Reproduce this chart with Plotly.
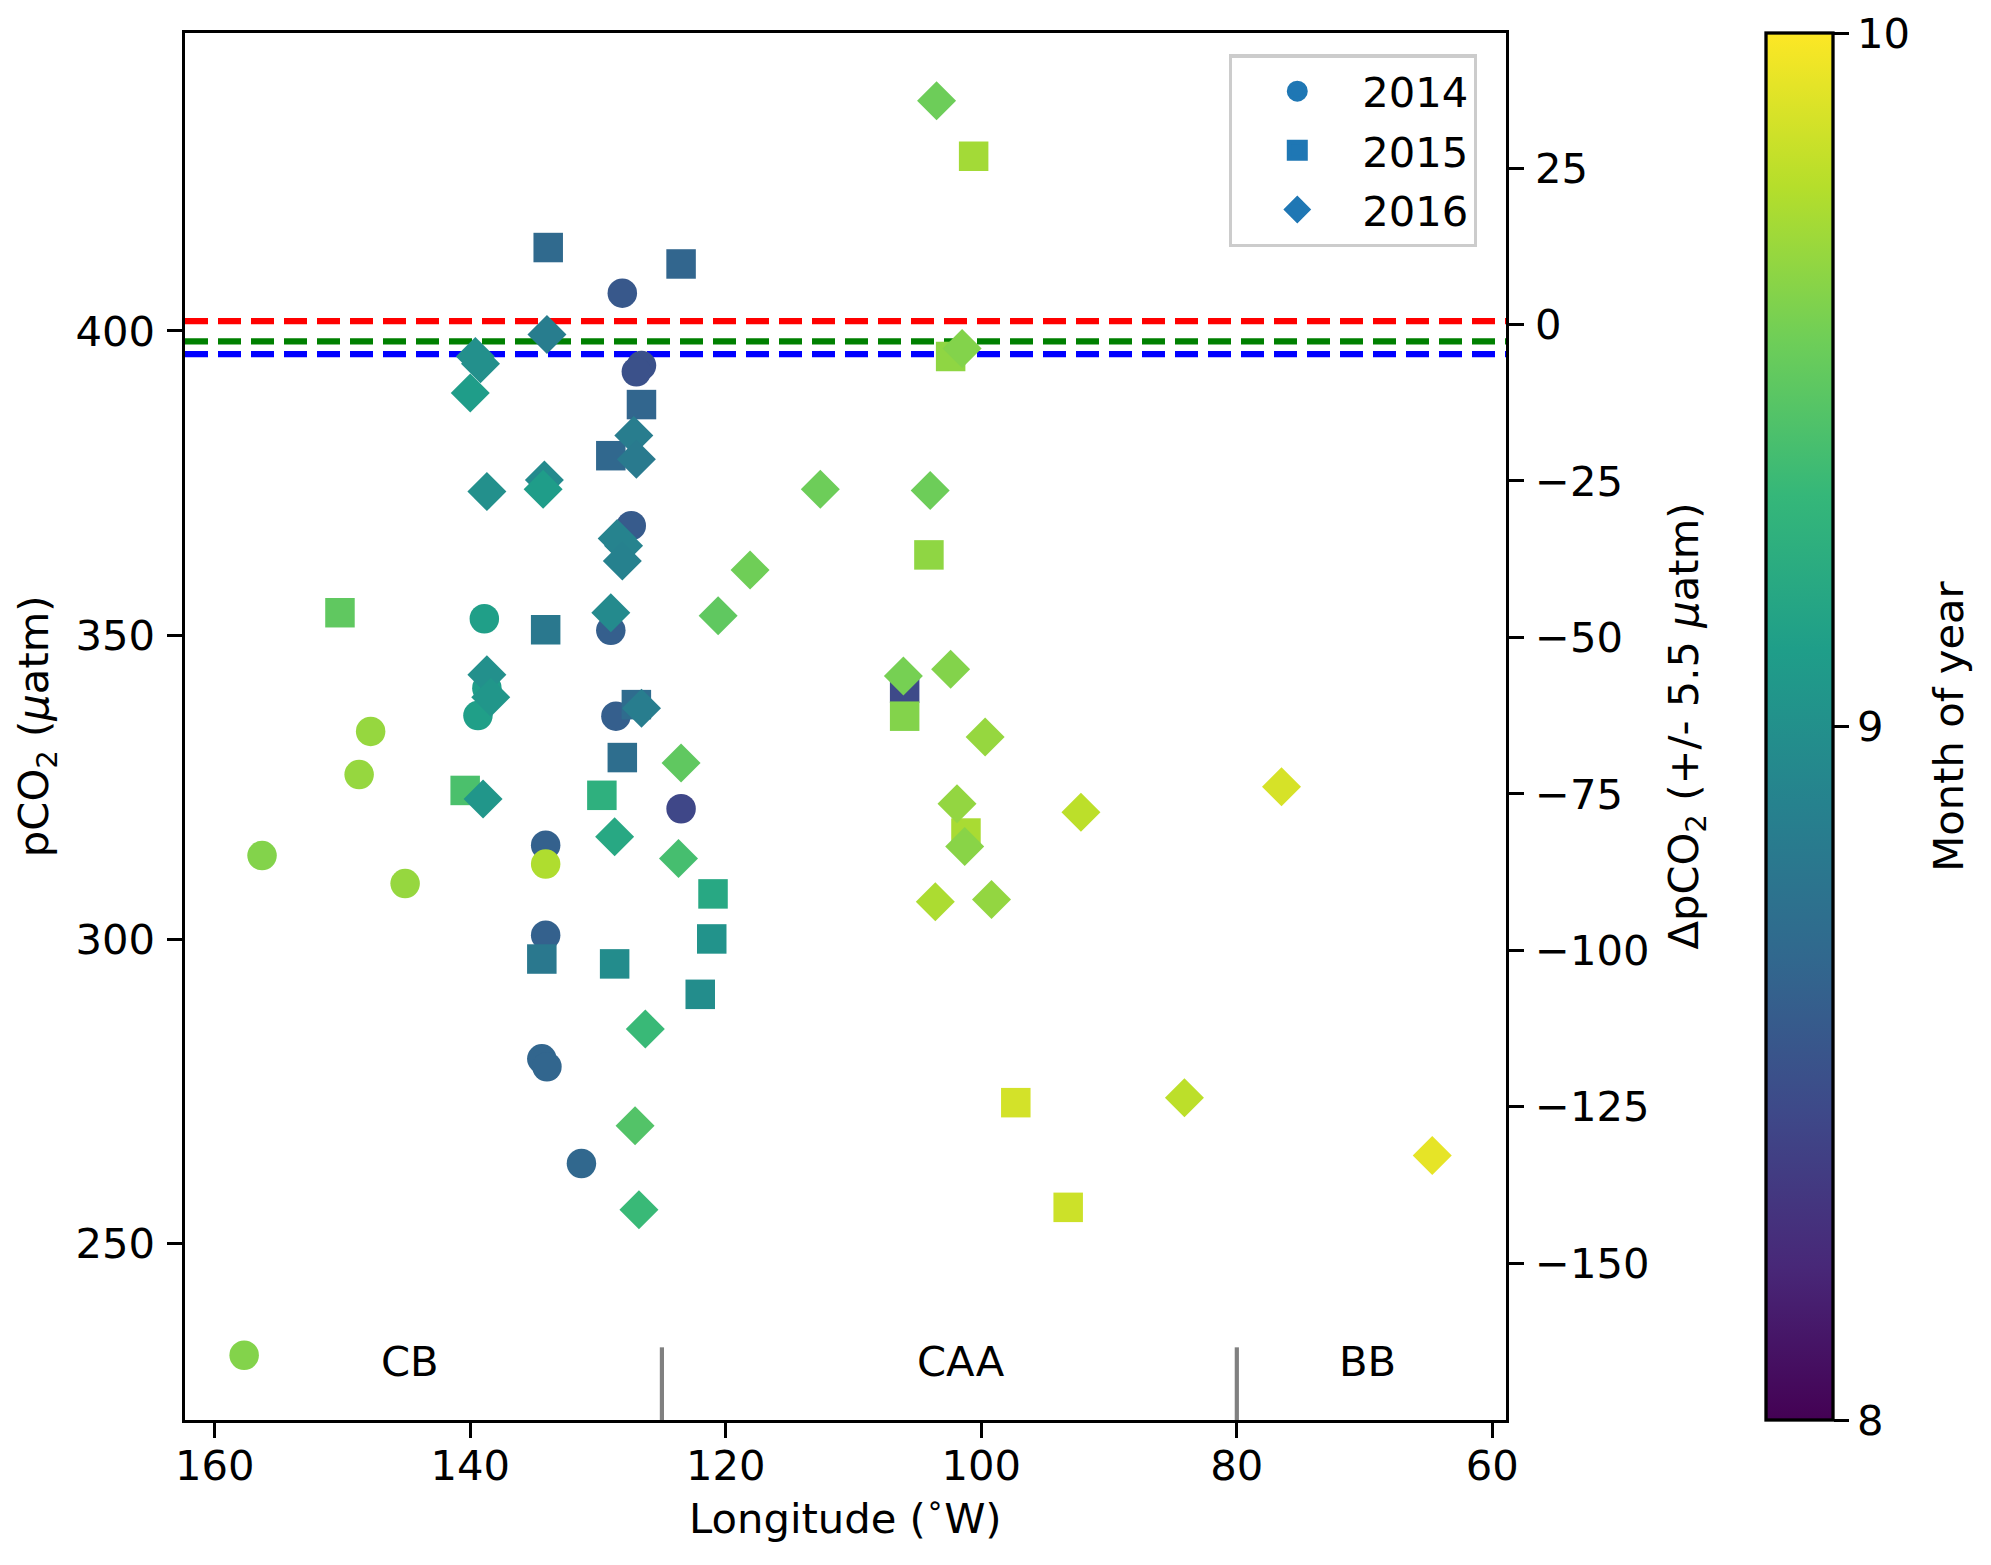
import plotly.graph_objects as go

# 2014 cruise: longitude (deg W), pCO2 (uatm), month of year
lon_2014 = [157.7, 156.3, 148.7, 147.8, 145.1, 138.9, 138.7, 139.4, 134.1, 134.1,
            134.1, 134.4, 134.0, 131.3, 128.1, 126.6, 127.0, 127.4, 129.0, 128.6, 123.5]
pco2_2014 = [231.7, 313.8, 327.1, 334.2, 309.2, 352.7, 341.3, 336.8, 315.5, 312.4,
             300.7, 280.4, 279.1, 263.2, 406.2, 394.3, 393.3, 368.0, 350.8, 336.7, 321.5]
month_2014 = [9.62, 9.62, 9.68, 9.68, 9.68, 9.12, 9.10, 9.12, 8.62, 9.76,
              8.62, 8.65, 8.65, 8.67, 8.55, 8.50, 8.50, 8.57, 8.60, 8.60, 8.43]

# 2015 cruise
lon_2015 = [133.9, 123.5, 150.2, 134.1, 140.4, 129.0, 126.6, 127.0, 128.1, 129.7,
            134.4, 128.7, 121.0, 121.1, 122.0, 100.6, 102.4, 104.1, 106.0, 106.0,
            101.2, 97.3, 93.2]
pco2_2015 = [413.7, 411.0, 353.7, 350.9, 324.5, 379.5, 387.9, 338.6, 329.9, 323.7,
             296.8, 296.0, 307.5, 300.1, 291.0, 428.7, 395.8, 363.2, 341.3, 336.7,
             317.5, 273.2, 256.0]
month_2015 = [8.68, 8.65, 9.50, 8.80, 9.42, 8.67, 8.65, 8.70, 8.72, 9.27,
              8.80, 8.97, 9.20, 9.02, 8.98, 9.72, 9.66, 9.66, 8.45, 9.62,
              9.74, 9.87, 9.85]

# 2016 cruise
lon_2016 = [103.5, 134.0, 139.6, 139.2, 140.0, 127.2, 127.0, 138.7, 134.2, 134.3,
            128.5, 128.0, 128.1, 129.0, 138.7, 138.4, 126.6, 139.0, 128.7, 123.5,
            123.7, 126.3, 127.1, 126.8, 112.6, 104.0, 118.1, 120.6, 106.1, 102.4,
            101.5, 99.7, 101.9, 101.3, 103.6, 99.2, 92.2, 76.5, 84.1, 64.7]
pco2_2016 = [437.8, 399.4, 395.8, 394.6, 389.8, 382.8, 378.9, 373.6, 375.5, 374.0,
             365.9, 364.7, 362.2, 353.7, 343.5, 339.8, 338.0, 323.1, 316.9, 329.0,
             313.3, 285.3, 269.4, 255.6, 374.0, 373.8, 360.7, 353.2, 343.3, 344.4,
             397.1, 333.3, 322.3, 315.3, 306.2, 306.6, 320.9, 325.1, 274.0, 264.5]
month_2016 = [9.55, 8.85, 9.00, 9.00, 9.10, 8.85, 8.82, 9.00, 8.95, 9.10,
              8.90, 8.90, 8.88, 8.95, 9.00, 9.05, 8.85, 9.05, 9.20, 9.50,
              9.40, 9.35, 9.45, 9.35, 9.55, 9.55, 9.56, 9.50, 9.58, 9.62,
              9.62, 9.68, 9.67, 9.64, 9.75, 9.67, 9.80, 9.88, 9.80, 9.93]

# atmospheric reference levels (uatm)
ref_levels = [401.6, 398.3, 396.2]
ref_colors = ['red', 'green', 'blue']

# region boundaries and labels
boundary_lons = [125, 80]
boundary_top = 233.0
region_names = ['CB', 'CAA', 'BB']
region_lons = [144.7, 101.6, 69.8]
region_y = 230.6

x_range = [162.33, 58.93]
y_range = [221.06, 448.95]
dy_range = [-175.04, 46.58]

FONT = 'DejaVu Sans'
FS = 41.7
LW = 3.3

fig = go.Figure()

years = [
    ('2014', lon_2014, pco2_2014, month_2014, 'circle', 29.5),
    ('2015', lon_2015, pco2_2015, month_2015, 'square', 29.5),
    ('2016', lon_2016, pco2_2016, month_2016, 'diamond', 30),
]

for name, lon, pco2, month, symbol, size in years:
    fig.add_trace(go.Scatter(
        x=lon, y=pco2, mode='markers', name=name, showlegend=False,
        marker=dict(symbol=symbol, size=size, color=month,
                    coloraxis='coloraxis', line=dict(width=0)),
    ))

# legend-only entries in plain tab:blue (outline fattens the capped legend symbol)
for name, lon, pco2, month, symbol, size in years:
    fig.add_trace(go.Scatter(
        x=[None], y=[None], mode='markers', name=name, legendgroup=name,
        marker=dict(symbol=symbol, size=size, color='#1f77b4',
                    line=dict(color='#1f77b4', width=5)),
    ))

# dummy trace so the right-hand delta axis is drawn
fig.add_trace(go.Scatter(x=[None], y=[None], yaxis='y2', showlegend=False,
                         hoverinfo='skip'))

for level, col in zip(ref_levels, ref_colors):
    fig.add_shape(type='line', xref='paper', x0=0, x1=1, yref='y',
                  y0=level, y1=level, layer='below',
                  line=dict(color=col, width=6.25, dash='23px,10px'))

for b in boundary_lons:
    fig.add_shape(type='line', xref='x', x0=b, x1=b, yref='y',
                  y0=y_range[0], y1=boundary_top,
                  line=dict(color='gray', width=4.2))

for name, lon in zip(region_names, region_lons):
    fig.add_annotation(x=lon, y=region_y, text=name, showarrow=False,
                       xanchor='center', yanchor='middle',
                       font=dict(family=FONT, size=FS, color='black'))

# axis titles as annotations so they sit where matplotlib put them
titles = [
    ('Longitude (<sup>∘</sup>W)', 0.5, -0.0692, 0),
    ('pCO<sub>2</sub> (<i>μ</i>atm)', -0.1123, 0.5, -90),
    ('ΔpCO<sub>2</sub> (+/- 5.5 <i>μ</i>atm)', 1.1363, 0.5, -90),
    ('Month of year', 1.3347, 0.5, -90),
]
for text, tx, ty, angle in titles:
    fig.add_annotation(x=tx, y=ty, xref='paper', yref='paper', text=text,
                       showarrow=False, textangle=angle,
                       xanchor='center', yanchor='middle',
                       font=dict(family=FONT, size=FS, color='black'))

axis_common = dict(showline=True, linecolor='black', linewidth=LW,
                   ticks='outside', ticklen=14.5, tickwidth=LW, tickcolor='black',
                   showgrid=False, zeroline=False, automargin=False,
                   tickfont=dict(family=FONT, size=FS, color='black'))

fig.update_layout(
    width=1991, height=1565,
    margin=dict(l=185.3, r=485, t=33.3, b=145),
    paper_bgcolor='white', plot_bgcolor='white',
    font=dict(family=FONT, size=FS, color='black'),
    xaxis=dict(range=x_range, tickvals=[160, 140, 120, 100, 80, 60],
               mirror=True, ticklabelstandoff=-8, **axis_common),
    yaxis=dict(range=y_range, tickvals=[250, 300, 350, 400],
               ticklabelstandoff=4, **axis_common),
    yaxis2=dict(range=dy_range, tickvals=[-150, -125, -100, -75, -50, -25, 0, 25],
                overlaying='y', side='right', anchor='x',
                ticklabelstandoff=3, **axis_common),
    coloraxis=dict(
        colorscale='Viridis', cmin=8, cmax=10,
        colorbar=dict(
            x=1.1969, xanchor='left', y=0.5, yanchor='middle',
            len=1, lenmode='fraction', thickness=67,
            xpad=0, ypad=0,
            outlinecolor='black', outlinewidth=LW,
            tickvals=[8, 9, 10], ticks='outside', ticklen=14.5, tickwidth=LW,
            tickcolor='black', tickfont=dict(family=FONT, size=FS),
        ),
    ),
    legend=dict(x=0.7903, xanchor='left', y=0.9847, yanchor='top',
                bgcolor='rgba(255,255,255,0.8)', bordercolor='#cccccc',
                borderwidth=3.3, font=dict(family=FONT, size=FS),
                itemwidth=120, tracegroupgap=2, itemsizing='trace'),
)

# drop the default 8px page margin so the figure sits at the window corner
fig.write_html("out.html", config={'displayModeBar': False},
               post_script="document.body.style.margin='0';")
